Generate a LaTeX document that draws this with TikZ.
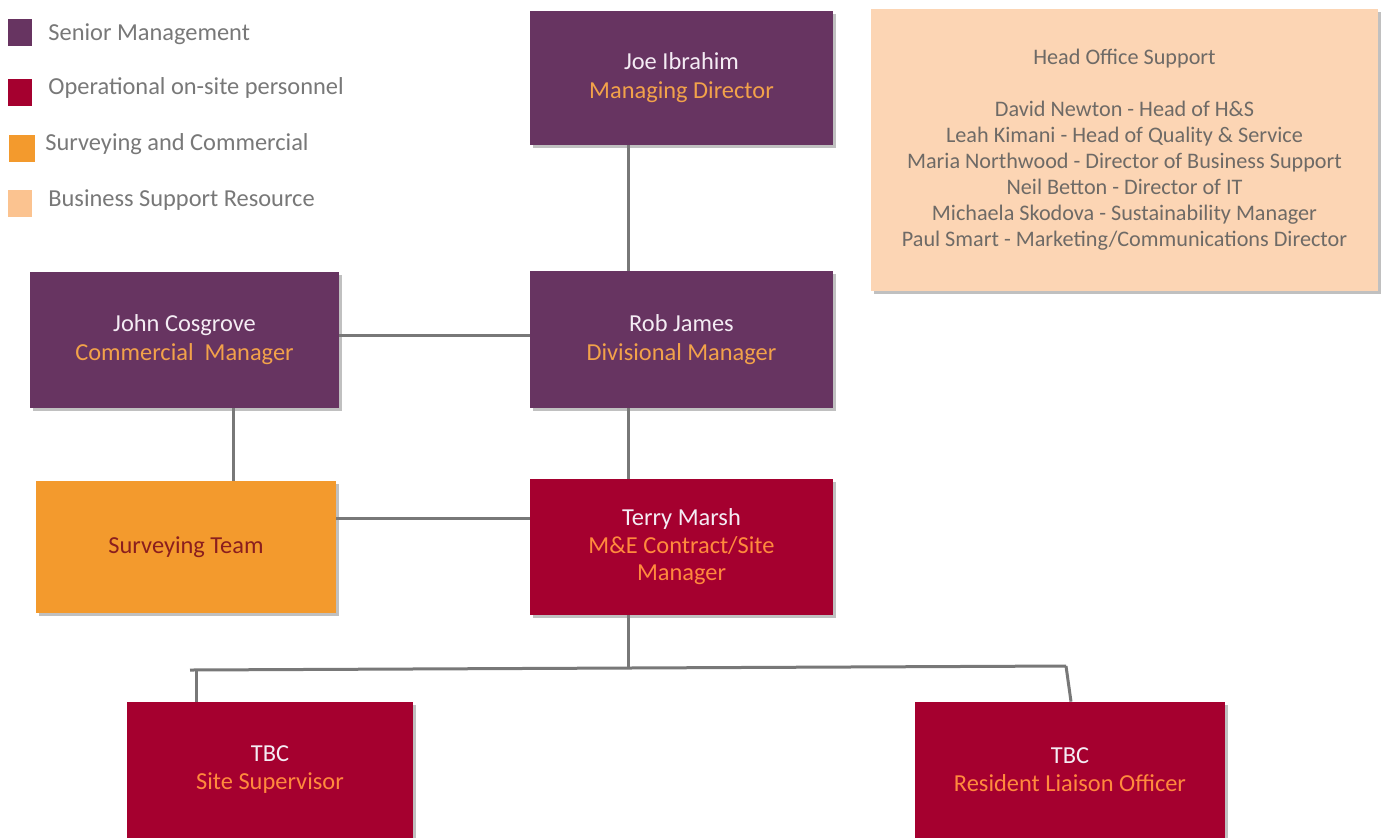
\documentclass[tikz,border=0pt]{standalone}
\usepackage{fontspec}
\setmainfont{Carlito}
\usetikzlibrary{shadows,calc}
\definecolor{smpurple}{HTML}{673461}
\definecolor{opred}{HTML}{A5002F}
\definecolor{survorange}{HTML}{F39A2D}
\definecolor{bspeach}{HTML}{FBC390}
\definecolor{headpeach}{HTML}{FCD5B4}
\definecolor{linegray}{HTML}{787878}
\definecolor{legtext}{HTML}{787878}
\definecolor{headtext}{HTML}{6E6A66}
\definecolor{roleorange}{HTML}{F2A24A}
\definecolor{rolered}{HTML}{FF8A3D}
\definecolor{namewhite}{HTML}{F4ECF4}
\definecolor{survtext}{HTML}{8A1E1E}
\begin{document}
\begin{tikzpicture}[x=0.5pt,y=-0.5pt,
  bx/.style 2 args={minimum width=#1*0.5pt, minimum height=#2*0.5pt, inner sep=0pt, align=center,
     drop shadow={shadow xshift=1.5pt, shadow yshift=-1.5pt, opacity=0.35, fill=black!70}},
  senior/.style={fill=smpurple, text=namewhite},
  oper/.style={fill=opred, text=namewhite},
  surv/.style={fill=survorange, text=survtext},
  conn/.style={draw=linegray, line width=1.5pt},
  legsq/.style={inner sep=0pt, minimum width=12pt, minimum height=13.5pt},
  legtx/.style={anchor=west, inner sep=0pt, text=legtext, font=\fontsize{12.2}{14}\selectfont},
  boxfont/.style={font=\fontsize{12.2}{14.2}\selectfont}
]
\useasboundingbox[fill=white] (0,0) rectangle (1386,837);

% legend
\node[legsq, fill=smpurple] (l1) at (20,32.5) {};
\node[legtx] (t1) at (48,34) {Senior Management};
\node[legsq, fill=opred] (l2) at (20,92) {};
\node[legtx] (t2) at (48,88) {Operational on-site personnel};
\node[legsq, fill=survorange, minimum width=13pt] (l3) at (22,148) {};
\node[legtx] (t3) at (45,144) {Surveying and Commercial};
\node[legsq, fill=bspeach] (l4) at (20,203) {};
\node[legtx] (t4) at (48,200) {Business Support Resource};

% boxes
\node[bx={303}{134}, senior, boxfont] (joe) at (681.5,78) {Joe Ibrahim\\[0.3pt]\textcolor{roleorange}{Managing Director}};
\node[bx={303}{137}, senior, boxfont] (rob) at (681.5,339.5) {Rob James\\[0.3pt]\textcolor{roleorange}{Divisional Manager}};
\node[bx={309}{136}, senior, boxfont] (john) at (184.5,340) {John Cosgrove\\[0.3pt]\textcolor{roleorange}{Commercial\ \ Manager}};
\node[bx={300}{132}, surv, boxfont] (survey) at (186,547) {Surveying Team};
\node[bx={303}{136}, oper, boxfont] (terry) at (681.5,547) {Terry Marsh\\[-0.4pt]\textcolor{rolered}{M\&E Contract/Site}\\[-0.4pt]\textcolor{rolered}{Manager}};
\node[bx={286}{136}, oper, boxfont] (sup) at (270,770) {TBC\\[-0.2pt]\textcolor{rolered}{Site Supervisor}};
\node[bx={310}{136}, oper, boxfont] (rlo) at (1070,770) {TBC\\[-0.2pt]\textcolor{rolered}{Resident Liaison Officer}};
\node[bx={507}{282}, fill=headpeach, text=headtext, font=\fontsize{11.1}{13}\selectfont] (head) at (1124.5,150)
  {Head Office Support\\[13pt]
   David Newton - Head of H\&S\\
   Leah Kimani - Head of Quality \& Service\\
   Maria Northwood - Director of Business Support\\
   Neil Betton - Director of IT\\
   Michaela Skodova - Sustainability Manager\\
   Paul Smart - Marketing/Communications Director};

% connectors
\coordinate (busL) at (190,670);
\coordinate (busM) at (628,668);
\coordinate (busR) at (1066,666);
\draw[conn] (628,0 |- joe.south) -- (628,0 |- rob.north);
\draw[conn] (john.east |- 0,335) -- (rob.west |- 0,335);
\draw[conn] (233,0 |- john.south) -- (233,0 |- survey.north);
\draw[conn] (628,0 |- rob.south) -- (628,0 |- terry.north);
\draw[conn] (survey.east |- 0,518) -- (terry.west |- 0,518);
\draw[conn] (628,0 |- terry.south) -- (busM);
\draw[conn] (busL) -- (busM) -- (busR);
\draw[conn] (196,670) -- (196,0 |- sup.north);
\draw[conn] (busR) -- (1071,0 |- rlo.north);
\end{tikzpicture}
\end{document}
